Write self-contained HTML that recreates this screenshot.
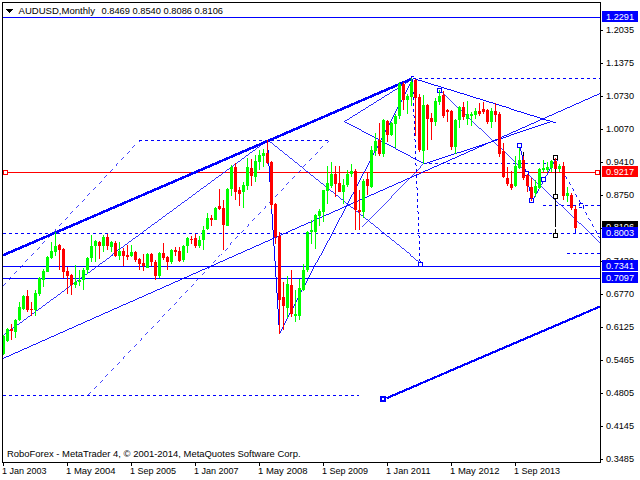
<!DOCTYPE html>
<html><head><meta charset="utf-8"><title>AUDUSD Monthly</title>
<style>
html,body{margin:0;padding:0;background:#fff;}
body{width:640px;height:480px;overflow:hidden;}
svg{display:block;}
svg text{font-family:"Liberation Sans",sans-serif;font-size:9.8px;}
svg text.w{fill:#fff;}
svg text.s{font-size:9.5px;}
</style></head><body>
<svg width="640" height="480" viewBox="0 0 640 480">
<rect width="640" height="480" fill="#fff"/>
<clipPath id="c"><rect x="3" y="3" width="597" height="459"/></clipPath>
<g clip-path="url(#c)">
<g shape-rendering="crispEdges">
<line x1="3" y1="17.5" x2="600" y2="17.5" stroke="#0000ff" stroke-width="1"/>
<line x1="3" y1="266.5" x2="600" y2="266.5" stroke="#0000ff" stroke-width="1"/>
<line x1="3" y1="278.5" x2="600" y2="278.5" stroke="#0000ff" stroke-width="1"/>
<line x1="3" y1="233.5" x2="600" y2="233.5" stroke="#0000ff" stroke-width="1" stroke-dasharray="3 3"/>
<line x1="3" y1="395.5" x2="359" y2="395.5" stroke="#0000ff" stroke-width="1" stroke-dasharray="3 3"/>
<line x1="139" y1="140.5" x2="329" y2="140.5" stroke="#0000ff" stroke-width="1" stroke-dasharray="3 3"/>
<line x1="413" y1="78.5" x2="600" y2="78.5" stroke="#0000ff" stroke-width="1" stroke-dasharray="3 3"/>
<line x1="423" y1="163.5" x2="548" y2="163.5" stroke="#0000ff" stroke-width="1" stroke-dasharray="3 3"/>
<line x1="543" y1="205.5" x2="600" y2="205.5" stroke="#0000ff" stroke-width="1" stroke-dasharray="3 3"/>
<line x1="567" y1="253.5" x2="600" y2="253.5" stroke="#0000ff" stroke-width="1" stroke-dasharray="3 3"/>
<line x1="3" y1="172.5" x2="600" y2="172.5" stroke="#ff0000" stroke-width="1"/>
<line x1="2.5" y1="255.5" x2="412.5" y2="78.5" stroke="#0000ff" stroke-width="2.571"/>
<line x1="386.5" y1="398.2" x2="600.5" y2="306.3" stroke="#0000ff" stroke-width="2.205"/>
<line x1="2.5" y1="358.7" x2="600.5" y2="93.3" stroke="#0000ff" stroke-width="0.914"/>
<line x1="3.5" y1="334.5" x2="267.5" y2="140.5" stroke="#0000ff" stroke-width="0.806"/>
<line x1="267.5" y1="140.5" x2="279.5" y2="333.5" stroke="#0000ff" stroke-width="0.998"/>
<line x1="279.5" y1="333.5" x2="412.5" y2="78.5" stroke="#0000ff" stroke-width="0.887"/>
<line x1="267.5" y1="140.5" x2="419.5" y2="262.5" stroke="#0000ff" stroke-width="0.780"/>
<line x1="362.5" y1="227.0" x2="423.5" y2="163.9" stroke="#0000ff" stroke-width="0.719"/>
<line x1="343.5" y1="121.5" x2="412.5" y2="78.5" stroke="#0000ff" stroke-width="0.849"/>
<line x1="343.5" y1="121.5" x2="423.5" y2="163.9" stroke="#0000ff" stroke-width="0.884"/>
<line x1="412.5" y1="78.5" x2="555.5" y2="122.8" stroke="#0000ff" stroke-width="0.955"/>
<line x1="423.5" y1="163.9" x2="551.0" y2="121.8" stroke="#0000ff" stroke-width="0.950"/>
<line x1="440.0" y1="90.5" x2="600.5" y2="243.0" stroke="#0000ff" stroke-width="0.725"/>
<line x1="520.0" y1="146.0" x2="532.0" y2="200.5" stroke="#0000ff" stroke-width="0.977"/>
<line x1="532.0" y1="200.5" x2="556.0" y2="157.5" stroke="#0000ff" stroke-width="0.873"/>
<line x1="2.5" y1="286.5" x2="139.5" y2="140.5" stroke="#0000ff" stroke-width="0.729" stroke-dasharray="4.114 4.114"/>
<line x1="88.0" y1="394.5" x2="328.5" y2="140.5" stroke="#0000ff" stroke-width="0.726" stroke-dasharray="4.131 4.131"/>
<line x1="412.5" y1="78.5" x2="420.2" y2="265.5" stroke="#0000ff" stroke-width="0.999" stroke-dasharray="3.003 3.003"/>
<line x1="556.0" y1="157.5" x2="600.5" y2="238.5" stroke="#0000ff" stroke-width="0.876" stroke-dasharray="3.423 3.423"/>
<line x1="575.5" y1="228.5" x2="575.5" y2="233.5" stroke="#0000ff" stroke-width="1.000"/>
<line x1="555.5" y1="160.5" x2="555.5" y2="226.5" stroke="#000" stroke-width="1.000"/>
<line x1="555.5" y1="228.5" x2="555.5" y2="233.5" stroke="#000" stroke-width="1.000"/>
</g>
<g shape-rendering="crispEdges">
<rect x="3.5" y="170.5" width="4" height="4" fill="#fff" stroke="#ff0000" stroke-width="1"/>
<rect x="595.5" y="170.5" width="4" height="4" fill="#fff" stroke="#ff0000" stroke-width="1"/>
<rect x="381.0" y="397.0" width="4" height="4" fill="#fff" stroke="#0000ff" stroke-width="2"/>
<rect x="437.5" y="88.5" width="4" height="4" fill="#fff" stroke="#0000ff" stroke-width="1"/>
<rect x="517.5" y="143.5" width="4" height="4" fill="#fff" stroke="#0000ff" stroke-width="1"/>
<rect x="524.0" y="171.0" width="4" height="4" fill="#fff" stroke="#0000ff" stroke-width="1"/>
<rect x="529.5" y="198.0" width="4" height="4" fill="#fff" stroke="#0000ff" stroke-width="1"/>
<rect x="541.5" y="177.5" width="4" height="4" fill="#fff" stroke="#0000ff" stroke-width="1"/>
<rect x="553.5" y="155.5" width="4" height="4" fill="#fff" stroke="#000" stroke-width="1"/>
<rect x="553.5" y="194.5" width="4" height="4" fill="#fff" stroke="#000" stroke-width="1"/>
<rect x="553.5" y="233.5" width="4" height="4" fill="#fff" stroke="#000" stroke-width="1"/>
<rect x="579.5" y="203.5" width="4" height="4" fill="#fff" stroke="#0000ff" stroke-width="1" stroke-dasharray="3 2"/>
<rect x="418.0" y="262.5" width="4" height="4" fill="#fff" stroke="#0000ff" stroke-width="1"/>
<rect x="411" y="76" width="3" height="1" fill="#0000ff"/><rect x="411" y="76" width="1" height="3" fill="#0000ff"/>
</g>
<g shape-rendering="crispEdges">
<rect x="3" y="335" width="1" height="20" fill="#00ff00"/>
<rect x="2" y="336" width="3" height="18" fill="#00ff00"/>
<rect x="7" y="328" width="1" height="14" fill="#00ff00"/>
<rect x="6" y="329" width="3" height="12" fill="#00ff00"/>
<rect x="11" y="324" width="1" height="16" fill="#ff0000"/>
<rect x="10" y="329" width="3" height="2" fill="#ff0000"/>
<rect x="15" y="319" width="1" height="19" fill="#00ff00"/>
<rect x="14" y="320" width="3" height="12" fill="#00ff00"/>
<rect x="19" y="302" width="1" height="19" fill="#00ff00"/>
<rect x="18" y="307" width="3" height="13" fill="#00ff00"/>
<rect x="23" y="295" width="1" height="15" fill="#00ff00"/>
<rect x="22" y="296" width="3" height="13" fill="#00ff00"/>
<rect x="27" y="290" width="1" height="22" fill="#ff0000"/>
<rect x="26" y="296" width="3" height="14" fill="#ff0000"/>
<rect x="31" y="302" width="1" height="14" fill="#ff0000"/>
<rect x="30" y="309" width="3" height="1" fill="#ff0000"/>
<rect x="35" y="290" width="1" height="26" fill="#00ff00"/>
<rect x="34" y="293" width="3" height="17" fill="#00ff00"/>
<rect x="39" y="277" width="1" height="19" fill="#00ff00"/>
<rect x="38" y="278" width="3" height="16" fill="#00ff00"/>
<rect x="43" y="269" width="1" height="18" fill="#00ff00"/>
<rect x="42" y="271" width="3" height="9" fill="#00ff00"/>
<rect x="47" y="256" width="1" height="16" fill="#00ff00"/>
<rect x="46" y="257" width="3" height="15" fill="#00ff00"/>
<rect x="51" y="242" width="1" height="17" fill="#00ff00"/>
<rect x="50" y="251" width="3" height="7" fill="#00ff00"/>
<rect x="55" y="232" width="1" height="24" fill="#00ff00"/>
<rect x="54" y="246" width="3" height="6" fill="#00ff00"/>
<rect x="59" y="244" width="1" height="26" fill="#ff0000"/>
<rect x="58" y="245" width="3" height="5" fill="#ff0000"/>
<rect x="63" y="248" width="1" height="30" fill="#ff0000"/>
<rect x="62" y="249" width="3" height="23" fill="#ff0000"/>
<rect x="67" y="267" width="1" height="27" fill="#ff0000"/>
<rect x="66" y="271" width="3" height="5" fill="#ff0000"/>
<rect x="71" y="274" width="1" height="21" fill="#ff0000"/>
<rect x="70" y="275" width="3" height="10" fill="#ff0000"/>
<rect x="75" y="265" width="1" height="23" fill="#00ff00"/>
<rect x="74" y="282" width="3" height="3" fill="#00ff00"/>
<rect x="79" y="270" width="1" height="16" fill="#00ff00"/>
<rect x="78" y="280" width="3" height="2" fill="#00ff00"/>
<rect x="83" y="268" width="1" height="22" fill="#00ff00"/>
<rect x="82" y="270" width="3" height="10" fill="#00ff00"/>
<rect x="87" y="257" width="1" height="17" fill="#00ff00"/>
<rect x="86" y="258" width="3" height="12" fill="#00ff00"/>
<rect x="91" y="235" width="1" height="27" fill="#00ff00"/>
<rect x="90" y="246" width="3" height="12" fill="#00ff00"/>
<rect x="95" y="240" width="1" height="22" fill="#00ff00"/>
<rect x="94" y="241" width="3" height="5" fill="#00ff00"/>
<rect x="99" y="241" width="1" height="18" fill="#ff0000"/>
<rect x="98" y="242" width="3" height="4" fill="#ff0000"/>
<rect x="103" y="235" width="1" height="17" fill="#00ff00"/>
<rect x="102" y="237" width="3" height="9" fill="#00ff00"/>
<rect x="107" y="234" width="1" height="16" fill="#ff0000"/>
<rect x="106" y="237" width="3" height="9" fill="#ff0000"/>
<rect x="111" y="241" width="1" height="11" fill="#00ff00"/>
<rect x="110" y="242" width="3" height="5" fill="#00ff00"/>
<rect x="115" y="241" width="1" height="16" fill="#ff0000"/>
<rect x="114" y="243" width="3" height="13" fill="#ff0000"/>
<rect x="119" y="242" width="1" height="18" fill="#00ff00"/>
<rect x="118" y="251" width="3" height="5" fill="#00ff00"/>
<rect x="123" y="248" width="1" height="18" fill="#ff0000"/>
<rect x="122" y="251" width="3" height="5" fill="#ff0000"/>
<rect x="127" y="245" width="1" height="15" fill="#ff0000"/>
<rect x="126" y="255" width="3" height="2" fill="#ff0000"/>
<rect x="131" y="245" width="1" height="12" fill="#00ff00"/>
<rect x="130" y="252" width="3" height="4" fill="#00ff00"/>
<rect x="135" y="251" width="1" height="11" fill="#ff0000"/>
<rect x="134" y="252" width="3" height="8" fill="#ff0000"/>
<rect x="139" y="258" width="1" height="12" fill="#ff0000"/>
<rect x="138" y="259" width="3" height="5" fill="#ff0000"/>
<rect x="143" y="254" width="1" height="17" fill="#ff0000"/>
<rect x="142" y="263" width="3" height="3" fill="#ff0000"/>
<rect x="147" y="253" width="1" height="15" fill="#00ff00"/>
<rect x="146" y="254" width="3" height="14" fill="#00ff00"/>
<rect x="151" y="253" width="1" height="13" fill="#ff0000"/>
<rect x="150" y="254" width="3" height="8" fill="#ff0000"/>
<rect x="155" y="260" width="1" height="20" fill="#ff0000"/>
<rect x="154" y="262" width="3" height="14" fill="#ff0000"/>
<rect x="159" y="252" width="1" height="26" fill="#00ff00"/>
<rect x="158" y="253" width="3" height="23" fill="#00ff00"/>
<rect x="163" y="243" width="1" height="17" fill="#ff0000"/>
<rect x="162" y="253" width="3" height="5" fill="#ff0000"/>
<rect x="167" y="256" width="1" height="14" fill="#ff0000"/>
<rect x="166" y="257" width="3" height="5" fill="#ff0000"/>
<rect x="171" y="249" width="1" height="15" fill="#00ff00"/>
<rect x="170" y="250" width="3" height="12" fill="#00ff00"/>
<rect x="175" y="247" width="1" height="9" fill="#ff0000"/>
<rect x="174" y="250" width="3" height="2" fill="#ff0000"/>
<rect x="179" y="247" width="1" height="15" fill="#ff0000"/>
<rect x="178" y="251" width="3" height="10" fill="#ff0000"/>
<rect x="183" y="245" width="1" height="17" fill="#00ff00"/>
<rect x="182" y="246" width="3" height="14" fill="#00ff00"/>
<rect x="187" y="237" width="1" height="16" fill="#00ff00"/>
<rect x="186" y="238" width="3" height="8" fill="#00ff00"/>
<rect x="191" y="236" width="1" height="8" fill="#ff0000"/>
<rect x="190" y="239" width="3" height="1" fill="#ff0000"/>
<rect x="195" y="234" width="1" height="14" fill="#ff0000"/>
<rect x="194" y="238" width="3" height="8" fill="#ff0000"/>
<rect x="199" y="236" width="1" height="12" fill="#00ff00"/>
<rect x="198" y="240" width="3" height="6" fill="#00ff00"/>
<rect x="203" y="226" width="1" height="24" fill="#00ff00"/>
<rect x="202" y="230" width="3" height="10" fill="#00ff00"/>
<rect x="207" y="213" width="1" height="17" fill="#00ff00"/>
<rect x="206" y="218" width="3" height="11" fill="#00ff00"/>
<rect x="211" y="215" width="1" height="11" fill="#ff0000"/>
<rect x="210" y="218" width="3" height="2" fill="#ff0000"/>
<rect x="215" y="207" width="1" height="13" fill="#00ff00"/>
<rect x="214" y="208" width="3" height="12" fill="#00ff00"/>
<rect x="219" y="189" width="1" height="21" fill="#ff0000"/>
<rect x="218" y="206" width="3" height="3" fill="#ff0000"/>
<rect x="223" y="200" width="1" height="50" fill="#ff0000"/>
<rect x="222" y="208" width="3" height="17" fill="#ff0000"/>
<rect x="227" y="188" width="1" height="38" fill="#00ff00"/>
<rect x="226" y="189" width="3" height="37" fill="#00ff00"/>
<rect x="231" y="165" width="1" height="31" fill="#00ff00"/>
<rect x="230" y="167" width="3" height="22" fill="#00ff00"/>
<rect x="235" y="163" width="1" height="37" fill="#ff0000"/>
<rect x="234" y="167" width="3" height="25" fill="#ff0000"/>
<rect x="239" y="187" width="1" height="19" fill="#ff0000"/>
<rect x="238" y="190" width="3" height="4" fill="#ff0000"/>
<rect x="243" y="182" width="1" height="26" fill="#00ff00"/>
<rect x="242" y="185" width="3" height="7" fill="#00ff00"/>
<rect x="247" y="158" width="1" height="32" fill="#00ff00"/>
<rect x="246" y="167" width="3" height="19" fill="#00ff00"/>
<rect x="251" y="159" width="1" height="27" fill="#ff0000"/>
<rect x="250" y="168" width="3" height="8" fill="#ff0000"/>
<rect x="255" y="155" width="1" height="27" fill="#00ff00"/>
<rect x="254" y="161" width="3" height="16" fill="#00ff00"/>
<rect x="259" y="150" width="1" height="20" fill="#00ff00"/>
<rect x="258" y="155" width="3" height="7" fill="#00ff00"/>
<rect x="263" y="149" width="1" height="18" fill="#00ff00"/>
<rect x="262" y="153" width="3" height="3" fill="#00ff00"/>
<rect x="267" y="140" width="1" height="24" fill="#ff0000"/>
<rect x="266" y="153" width="3" height="10" fill="#ff0000"/>
<rect x="271" y="161" width="1" height="48" fill="#ff0000"/>
<rect x="270" y="162" width="3" height="43" fill="#ff0000"/>
<rect x="275" y="203" width="1" height="41" fill="#ff0000"/>
<rect x="274" y="204" width="3" height="33" fill="#ff0000"/>
<rect x="279" y="232" width="1" height="102" fill="#ff0000"/>
<rect x="278" y="236" width="3" height="64" fill="#ff0000"/>
<rect x="283" y="282" width="1" height="48" fill="#ff0000"/>
<rect x="282" y="297" width="3" height="9" fill="#ff0000"/>
<rect x="287" y="276" width="1" height="42" fill="#00ff00"/>
<rect x="286" y="284" width="3" height="24" fill="#00ff00"/>
<rect x="291" y="270" width="1" height="47" fill="#ff0000"/>
<rect x="290" y="285" width="3" height="29" fill="#ff0000"/>
<rect x="295" y="290" width="1" height="32" fill="#00ff00"/>
<rect x="294" y="314" width="3" height="2" fill="#00ff00"/>
<rect x="299" y="279" width="1" height="41" fill="#00ff00"/>
<rect x="298" y="288" width="3" height="28" fill="#00ff00"/>
<rect x="303" y="264" width="1" height="27" fill="#00ff00"/>
<rect x="302" y="270" width="3" height="20" fill="#00ff00"/>
<rect x="307" y="231" width="1" height="41" fill="#00ff00"/>
<rect x="306" y="232" width="3" height="38" fill="#00ff00"/>
<rect x="311" y="220" width="1" height="24" fill="#00ff00"/>
<rect x="310" y="230" width="3" height="2" fill="#00ff00"/>
<rect x="315" y="214" width="1" height="35" fill="#00ff00"/>
<rect x="314" y="215" width="3" height="17" fill="#00ff00"/>
<rect x="319" y="209" width="1" height="17" fill="#00ff00"/>
<rect x="318" y="211" width="3" height="5" fill="#00ff00"/>
<rect x="323" y="190" width="1" height="32" fill="#00ff00"/>
<rect x="322" y="190" width="3" height="22" fill="#00ff00"/>
<rect x="327" y="166" width="1" height="38" fill="#00ff00"/>
<rect x="326" y="183" width="3" height="8" fill="#00ff00"/>
<rect x="331" y="162" width="1" height="26" fill="#00ff00"/>
<rect x="330" y="174" width="3" height="12" fill="#00ff00"/>
<rect x="335" y="166" width="1" height="31" fill="#ff0000"/>
<rect x="334" y="174" width="3" height="10" fill="#ff0000"/>
<rect x="339" y="166" width="1" height="26" fill="#ff0000"/>
<rect x="338" y="183" width="3" height="9" fill="#ff0000"/>
<rect x="343" y="179" width="1" height="25" fill="#00ff00"/>
<rect x="342" y="185" width="3" height="7" fill="#00ff00"/>
<rect x="347" y="170" width="1" height="17" fill="#00ff00"/>
<rect x="346" y="174" width="3" height="11" fill="#00ff00"/>
<rect x="351" y="164" width="1" height="13" fill="#00ff00"/>
<rect x="350" y="171" width="3" height="3" fill="#00ff00"/>
<rect x="355" y="169" width="1" height="61" fill="#ff0000"/>
<rect x="354" y="171" width="3" height="39" fill="#ff0000"/>
<rect x="359" y="190" width="1" height="40" fill="#ff0000"/>
<rect x="358" y="210" width="3" height="2" fill="#ff0000"/>
<rect x="363" y="179" width="1" height="39" fill="#00ff00"/>
<rect x="362" y="181" width="3" height="31" fill="#00ff00"/>
<rect x="367" y="172" width="1" height="23" fill="#ff0000"/>
<rect x="366" y="179" width="3" height="7" fill="#ff0000"/>
<rect x="371" y="146" width="1" height="42" fill="#00ff00"/>
<rect x="370" y="150" width="3" height="37" fill="#00ff00"/>
<rect x="375" y="133" width="1" height="23" fill="#00ff00"/>
<rect x="374" y="141" width="3" height="10" fill="#00ff00"/>
<rect x="379" y="123" width="1" height="33" fill="#ff0000"/>
<rect x="378" y="140" width="3" height="14" fill="#ff0000"/>
<rect x="383" y="119" width="1" height="38" fill="#00ff00"/>
<rect x="382" y="120" width="3" height="34" fill="#00ff00"/>
<rect x="387" y="120" width="1" height="22" fill="#ff0000"/>
<rect x="386" y="121" width="3" height="14" fill="#ff0000"/>
<rect x="391" y="122" width="1" height="14" fill="#00ff00"/>
<rect x="390" y="123" width="3" height="12" fill="#00ff00"/>
<rect x="395" y="114" width="1" height="34" fill="#00ff00"/>
<rect x="394" y="116" width="3" height="8" fill="#00ff00"/>
<rect x="399" y="82" width="1" height="37" fill="#00ff00"/>
<rect x="398" y="84" width="3" height="32" fill="#00ff00"/>
<rect x="403" y="82" width="1" height="28" fill="#ff0000"/>
<rect x="402" y="84" width="3" height="16" fill="#ff0000"/>
<rect x="407" y="94" width="1" height="20" fill="#00ff00"/>
<rect x="406" y="96" width="3" height="4" fill="#00ff00"/>
<rect x="411" y="78" width="1" height="28" fill="#00ff00"/>
<rect x="410" y="82" width="3" height="15" fill="#00ff00"/>
<rect x="415" y="79" width="1" height="57" fill="#ff0000"/>
<rect x="414" y="80" width="3" height="18" fill="#ff0000"/>
<rect x="419" y="94" width="1" height="58" fill="#ff0000"/>
<rect x="418" y="97" width="3" height="53" fill="#ff0000"/>
<rect x="423" y="95" width="1" height="69" fill="#00ff00"/>
<rect x="422" y="105" width="3" height="46" fill="#00ff00"/>
<rect x="427" y="104" width="1" height="46" fill="#ff0000"/>
<rect x="426" y="105" width="3" height="14" fill="#ff0000"/>
<rect x="431" y="113" width="1" height="27" fill="#ff0000"/>
<rect x="430" y="118" width="3" height="4" fill="#ff0000"/>
<rect x="435" y="98" width="1" height="28" fill="#00ff00"/>
<rect x="434" y="101" width="3" height="21" fill="#00ff00"/>
<rect x="439" y="90" width="1" height="15" fill="#00ff00"/>
<rect x="438" y="96" width="3" height="6" fill="#00ff00"/>
<rect x="443" y="91" width="1" height="27" fill="#ff0000"/>
<rect x="442" y="95" width="3" height="21" fill="#ff0000"/>
<rect x="447" y="109" width="1" height="13" fill="#ff0000"/>
<rect x="446" y="110" width="3" height="2" fill="#ff0000"/>
<rect x="451" y="110" width="1" height="40" fill="#ff0000"/>
<rect x="450" y="111" width="3" height="36" fill="#ff0000"/>
<rect x="455" y="119" width="1" height="35" fill="#00ff00"/>
<rect x="454" y="120" width="3" height="27" fill="#00ff00"/>
<rect x="459" y="106" width="1" height="22" fill="#00ff00"/>
<rect x="458" y="107" width="3" height="13" fill="#00ff00"/>
<rect x="463" y="102" width="1" height="18" fill="#ff0000"/>
<rect x="462" y="107" width="3" height="10" fill="#ff0000"/>
<rect x="467" y="101" width="1" height="24" fill="#00ff00"/>
<rect x="466" y="114" width="3" height="5" fill="#00ff00"/>
<rect x="471" y="112" width="1" height="14" fill="#00ff00"/>
<rect x="470" y="114" width="3" height="2" fill="#00ff00"/>
<rect x="475" y="108" width="1" height="11" fill="#00ff00"/>
<rect x="474" y="111" width="3" height="4" fill="#00ff00"/>
<rect x="479" y="103" width="1" height="13" fill="#ff0000"/>
<rect x="478" y="111" width="3" height="3" fill="#ff0000"/>
<rect x="483" y="102" width="1" height="12" fill="#ff0000"/>
<rect x="482" y="109" width="3" height="3" fill="#ff0000"/>
<rect x="487" y="109" width="1" height="15" fill="#ff0000"/>
<rect x="486" y="110" width="3" height="12" fill="#ff0000"/>
<rect x="491" y="108" width="1" height="20" fill="#00ff00"/>
<rect x="490" y="111" width="3" height="11" fill="#00ff00"/>
<rect x="495" y="103" width="1" height="19" fill="#ff0000"/>
<rect x="494" y="111" width="3" height="4" fill="#ff0000"/>
<rect x="499" y="112" width="1" height="45" fill="#ff0000"/>
<rect x="498" y="114" width="3" height="40" fill="#ff0000"/>
<rect x="503" y="143" width="1" height="35" fill="#ff0000"/>
<rect x="502" y="151" width="3" height="26" fill="#ff0000"/>
<rect x="507" y="167" width="1" height="19" fill="#ff0000"/>
<rect x="506" y="178" width="3" height="6" fill="#ff0000"/>
<rect x="511" y="171" width="1" height="19" fill="#ff0000"/>
<rect x="510" y="184" width="3" height="4" fill="#ff0000"/>
<rect x="515" y="156" width="1" height="31" fill="#00ff00"/>
<rect x="514" y="166" width="3" height="20" fill="#00ff00"/>
<rect x="519" y="148" width="1" height="21" fill="#00ff00"/>
<rect x="518" y="160" width="3" height="8" fill="#00ff00"/>
<rect x="523" y="152" width="1" height="28" fill="#ff0000"/>
<rect x="522" y="160" width="3" height="18" fill="#ff0000"/>
<rect x="527" y="174" width="1" height="18" fill="#ff0000"/>
<rect x="526" y="175" width="3" height="11" fill="#ff0000"/>
<rect x="531" y="178" width="1" height="23" fill="#ff0000"/>
<rect x="530" y="187" width="3" height="11" fill="#ff0000"/>
<rect x="535" y="180" width="1" height="17" fill="#00ff00"/>
<rect x="534" y="186" width="3" height="7" fill="#00ff00"/>
<rect x="539" y="168" width="1" height="21" fill="#00ff00"/>
<rect x="538" y="169" width="3" height="19" fill="#00ff00"/>
<rect x="543" y="160" width="1" height="12" fill="#00ff00"/>
<rect x="542" y="168" width="3" height="2" fill="#00ff00"/>
<rect x="547" y="162" width="1" height="10" fill="#00ff00"/>
<rect x="546" y="167" width="3" height="3" fill="#00ff00"/>
<rect x="551" y="160" width="1" height="12" fill="#00ff00"/>
<rect x="550" y="161" width="3" height="7" fill="#00ff00"/>
<rect x="555" y="158" width="1" height="11" fill="#ff0000"/>
<rect x="554" y="161" width="3" height="8" fill="#ff0000"/>
<rect x="559" y="164" width="1" height="8" fill="#00ff00"/>
<rect x="558" y="166" width="3" height="3" fill="#00ff00"/>
<rect x="563" y="162" width="1" height="38" fill="#ff0000"/>
<rect x="562" y="166" width="3" height="30" fill="#ff0000"/>
<rect x="567" y="187" width="1" height="15" fill="#00ff00"/>
<rect x="566" y="193" width="3" height="3" fill="#00ff00"/>
<rect x="571" y="193" width="1" height="17" fill="#ff0000"/>
<rect x="570" y="195" width="3" height="13" fill="#ff0000"/>
<rect x="575" y="206" width="1" height="23" fill="#ff0000"/>
<rect x="574" y="209" width="3" height="19" fill="#ff0000"/>
<rect x="523" y="152" width="1" height="4" fill="#000"/>
</g>
</g>
<g shape-rendering="crispEdges" fill="#000">
<rect x="2" y="2" width="599" height="1"/>
<rect x="2" y="2" width="1" height="461"/>
<rect x="2" y="462" width="599" height="1"/>
<rect x="600" y="2" width="1" height="461"/>
<rect x="601" y="30" width="2" height="1"/>
<rect x="601" y="63" width="2" height="1"/>
<rect x="601" y="96" width="2" height="1"/>
<rect x="601" y="129" width="2" height="1"/>
<rect x="601" y="162" width="2" height="1"/>
<rect x="601" y="195" width="2" height="1"/>
<rect x="601" y="228" width="2" height="1"/>
<rect x="601" y="261" width="2" height="1"/>
<rect x="601" y="294" width="2" height="1"/>
<rect x="601" y="327" width="2" height="1"/>
<rect x="601" y="360" width="2" height="1"/>
<rect x="601" y="393" width="2" height="1"/>
<rect x="601" y="426" width="2" height="1"/>
<rect x="601" y="459" width="2" height="1"/>
<rect x="3" y="463" width="1" height="3"/>
<rect x="67" y="463" width="1" height="3"/>
<rect x="131" y="463" width="1" height="3"/>
<rect x="195" y="463" width="1" height="3"/>
<rect x="259" y="463" width="1" height="3"/>
<rect x="323" y="463" width="1" height="3"/>
<rect x="387" y="463" width="1" height="3"/>
<rect x="451" y="463" width="1" height="3"/>
<rect x="515" y="463" width="1" height="3"/>
</g>
<g>
<text x="606" y="33" textLength="28" lengthAdjust="spacingAndGlyphs">1.2035</text>
<text x="606" y="66" textLength="28" lengthAdjust="spacingAndGlyphs">1.1375</text>
<text x="606" y="99" textLength="28" lengthAdjust="spacingAndGlyphs">1.0730</text>
<text x="606" y="132" textLength="28" lengthAdjust="spacingAndGlyphs">1.0070</text>
<text x="606" y="165" textLength="28" lengthAdjust="spacingAndGlyphs">0.9410</text>
<text x="606" y="198" textLength="28" lengthAdjust="spacingAndGlyphs">0.8750</text>
<text x="606" y="231" textLength="28" lengthAdjust="spacingAndGlyphs">0.8090</text>
<text x="606" y="264" textLength="28" lengthAdjust="spacingAndGlyphs">0.7430</text>
<text x="606" y="297" textLength="28" lengthAdjust="spacingAndGlyphs">0.6770</text>
<text x="606" y="330" textLength="28" lengthAdjust="spacingAndGlyphs">0.6125</text>
<text x="606" y="363" textLength="28" lengthAdjust="spacingAndGlyphs">0.5465</text>
<text x="606" y="396" textLength="28" lengthAdjust="spacingAndGlyphs">0.4805</text>
<text x="606" y="429" textLength="28" lengthAdjust="spacingAndGlyphs">0.4145</text>
<text x="606" y="462" textLength="28" lengthAdjust="spacingAndGlyphs">0.3485</text>
<text class="s" x="2" y="474" textLength="44.5" lengthAdjust="spacingAndGlyphs">1 Jan 2003</text>
<text class="s" x="66" y="474" textLength="49.5" lengthAdjust="spacingAndGlyphs">1 May 2004</text>
<text class="s" x="130" y="474" textLength="46" lengthAdjust="spacingAndGlyphs">1 Sep 2005</text>
<text class="s" x="194" y="474" textLength="44.5" lengthAdjust="spacingAndGlyphs">1 Jan 2007</text>
<text class="s" x="258" y="474" textLength="49.5" lengthAdjust="spacingAndGlyphs">1 May 2008</text>
<text class="s" x="322" y="474" textLength="46" lengthAdjust="spacingAndGlyphs">1 Sep 2009</text>
<text class="s" x="386" y="474" textLength="44.5" lengthAdjust="spacingAndGlyphs">1 Jan 2011</text>
<text class="s" x="450" y="474" textLength="49.5" lengthAdjust="spacingAndGlyphs">1 May 2012</text>
<text class="s" x="514" y="474" textLength="46" lengthAdjust="spacingAndGlyphs">1 Sep 2013</text>
<text class="s" x="18.5" y="13.5" textLength="76.5" lengthAdjust="spacingAndGlyphs">AUDUSD,Monthly</text>
<text class="s" x="101.5" y="13.5" textLength="121.5" lengthAdjust="spacingAndGlyphs">0.8469 0.8540 0.8086 0.8106</text>
<text class="s" x="7" y="457" textLength="293.5" lengthAdjust="spacingAndGlyphs">RoboForex - MetaTrader 4, © 2001-2014, MetaQuotes Software Corp.</text>
<g shape-rendering="crispEdges" fill="#000"><rect x="6" y="9" width="7" height="1"/><rect x="7" y="10" width="5" height="1"/><rect x="8" y="11" width="3" height="1"/><rect x="9" y="12" width="1" height="1"/></g>
<rect x="602" y="11" width="36" height="11" fill="#0000ff" shape-rendering="crispEdges"/><text class="w" x="606" y="20" textLength="28" lengthAdjust="spacingAndGlyphs">1.2291</text>
<rect x="602" y="166" width="36" height="11" fill="#ff0000" shape-rendering="crispEdges"/><text class="w" x="606" y="175" textLength="28" lengthAdjust="spacingAndGlyphs">0.9217</text>
<rect x="602" y="221" width="36" height="11" fill="#000" shape-rendering="crispEdges"/><text class="w" x="606" y="230" textLength="28" lengthAdjust="spacingAndGlyphs">0.8106</text>
<rect x="602" y="227" width="36" height="11" fill="#0000ff" shape-rendering="crispEdges"/><text class="w" x="606" y="236" textLength="28" lengthAdjust="spacingAndGlyphs">0.8003</text>
<rect x="602" y="260" width="36" height="11" fill="#0000ff" shape-rendering="crispEdges"/><text class="w" x="606" y="269" textLength="28" lengthAdjust="spacingAndGlyphs">0.7341</text>
<rect x="602" y="272" width="36" height="11" fill="#0000ff" shape-rendering="crispEdges"/><text class="w" x="606" y="281" textLength="28" lengthAdjust="spacingAndGlyphs">0.7097</text>
</g>
</svg>
</body></html>
